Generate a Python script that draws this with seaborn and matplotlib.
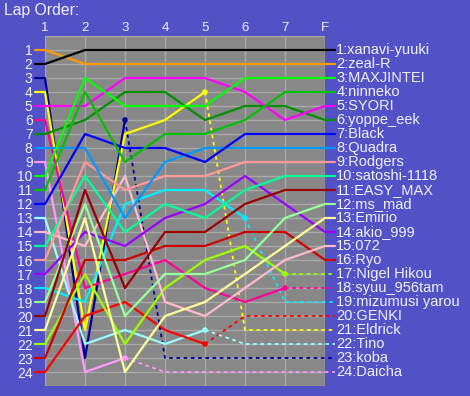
import matplotlib
matplotlib.use("Agg")
import matplotlib.pyplot as plt
import seaborn as sns
import pandas as pd

# ---- data ----
laps = ["1", "2", "3", "4", "5", "6", "7", "F"]
drivers = ["xanavi-yuuki", "zeal-R", "MAXJINTEI", "ninneko", "SYORI", "yoppe_eek",
           "Black", "Quadra", "Rodgers", "satoshi-1118", "EASY_MAX", "ms_mad",
           "Emirio", "akio_999", "072", "Ryo", "Nigel Hikou", "syuu_956tam",
           "mizumusi yarou", "GENKI", "Eldrick", "Tino", "koba", "Daicha"]
order = {
    "xanavi-yuuki":   [2, 1, 1, 1, 1, 1, 1, 1],
    "zeal-R":         [1, 2, 2, 2, 2, 2, 2, 2],
    "MAXJINTEI":      [10, 3, 5, 5, 5, 3, 3, 3],
    "ninneko":        [11, 4, 9, 7, 7, 6, 4, 4],
    "SYORI":          [5, 5, 3, 3, 3, 4, 6, 5],
    "yoppe_eek":      [7, 6, 4, 4, 6, 5, 5, 6],
    "Black":          [12, 7, 8, 8, 9, 7, 7, 7],
    "Quadra":         [8, 8, 13, 9, 8, 8, 8, 8],
    "Rodgers":        [16, 9, 11, 10, 10, 9, 9, 9],
    "satoshi-1118":   [15, 10, 14, 12, 13, 11, 10, 10],
    "EASY_MAX":       [20, 11, 18, 14, 14, 12, 11, 11],
    "ms_mad":         [19, 12, 20, 17, 17, 16, 13, 12],
    "Emirio":         [21, 13, 24, 20, 19, 17, 15, 13],
    "akio_999":       [17, 14, 15, 13, 12, 10, 12, 14],
    "072":            [14, 15, 10, 19, 20, 18, 16, 15],
    "Ryo":            [23, 16, 16, 15, 15, 14, 14, 16],
    "Nigel Hikou":    [22, 17, 22, 18, 16, 15, 17, 17],
    "syuu_956tam":    [6, 18, 17, 16, 18, 19, 18, 18],
    "mizumusi yarou": [18, 19, 12, 11, 11, 13, 19, 19],
    "GENKI":          [24, 20, 19, 21, 22, 20, 20, 20],
    "Eldrick":        [4, 21, 7, 6, 4, 21, 21, 21],
    "Tino":           [13, 22, 21, 22, 21, 22, 22, 22],
    "koba":           [3, 23, 6, 23, 23, 23, 23, 23],
    "Daicha":         [9, 24, 23, 24, 24, 24, 24, 24],
}
# index of last lap run before retiring (None = finished)
retired_after = {"koba": 2, "Daicha": 2, "Eldrick": 4, "GENKI": 4, "Tino": 4,
                 "mizumusi yarou": 5, "Nigel Hikou": 6, "syuu_956tam": 6}
colors = {
    "xanavi-yuuki": "#000000", "zeal-R": "#ff9900", "MAXJINTEI": "#00ff00",
    "ninneko": "#00c000", "SYORI": "#ff00ff", "yoppe_eek": "#009000",
    "Black": "#0000ff", "Quadra": "#0099ff", "Rodgers": "#ff9999",
    "satoshi-1118": "#00ff99", "EASY_MAX": "#990000", "ms_mad": "#99ff99",
    "Emirio": "#ffff99", "akio_999": "#9900ff", "072": "#ffbbcc",
    "Ryo": "#cc0000", "Nigel Hikou": "#99ff00", "syuu_956tam": "#ff0099",
    "mizumusi yarou": "#00eeff", "GENKI": "#ff0000", "Eldrick": "#ffff00",
    "Tino": "#99ffff", "koba": "#000099", "Daicha": "#ff99ff",
}

# ---- style ----
BG = "#5252c6"
PLOT = "#888888"
GRID = "#a8a8a8"
TXT = "#f0f0ff"
STUB = 0.25

sns.set_style("white")
plt.rcParams["font.family"] = ["Liberation Sans", "DejaVu Sans"]

fig = plt.figure(figsize=(4.70, 3.96), dpi=100)
fig.patch.set_facecolor(BG)
ax = fig.add_axes([45 / 470, 10 / 396, 280 / 470, 350 / 396])
ax.set_facecolor(PLOT)

n = len(laps)
run_rows, ret_rows, dot_rows = [], [], []
for d in drivers:
    pos = order[d]
    last = retired_after.get(d, n - 1)
    run_rows.append({"driver": d, "x": -STUB, "pos": pos[0]})
    for i in range(last + 1):
        run_rows.append({"driver": d, "x": i, "pos": pos[i]})
    if last == n - 1:
        run_rows.append({"driver": d, "x": n - 1 + STUB, "pos": pos[-1]})
    else:
        dot_rows.append({"driver": d, "x": last, "pos": pos[last]})
        for i in range(last, n):
            ret_rows.append({"driver": d, "x": i, "pos": pos[i]})
        ret_rows.append({"driver": d, "x": n - 1 + STUB, "pos": pos[-1]})

df_run = pd.DataFrame(run_rows)
df_ret = pd.DataFrame(ret_rows)
df_dot = pd.DataFrame(dot_rows)

sns.lineplot(data=df_ret, x="x", y="pos", hue="driver", palette=colors,
             estimator=None, sort=False, legend=False, ax=ax,
             lw=1.3, linestyle=(0, (2, 2)), clip_on=False)
sns.lineplot(data=df_run, x="x", y="pos", hue="driver",
             hue_order=drivers[::-1], palette=colors,
             estimator=None, sort=False, legend=False, ax=ax,
             lw=1.6, clip_on=False)
sns.scatterplot(data=df_dot, x="x", y="pos", hue="driver", palette=colors,
                legend=False, ax=ax, s=16, linewidth=0, clip_on=False, zorder=5)

ax.set_xlim(0, n - 1)
ax.set_ylim(len(drivers) + 1, 0)
ax.set_xticks(range(n))
ax.set_xticklabels(laps)
ax.xaxis.tick_top()
ax.set_yticks(range(len(drivers) + 2))
ax.set_yticklabels([""] + [str(i) for i in range(1, len(drivers) + 1)] + [""])
ax.tick_params(axis="x", length=0, pad=1.5, labelsize=9.5, colors=TXT)
ax.tick_params(axis="y", length=0, pad=9, labelsize=10, colors=TXT)
ax.grid(True, color=GRID, lw=1)
ax.set_axisbelow(True)
ax.set_xlabel("")
ax.set_ylabel("")
for s in ax.spines.values():
    s.set_visible(False)

for d in drivers:
    final = order[d][-1]
    ax.text(n - 1 + STUB + 0.03, final, f"{final}:{d}", color=TXT,
            fontsize=10.5, va="center", ha="left", clip_on=False)

fig.text(4 / 470, 1 - 11 / 396, "Lap Order:", color=TXT, fontsize=11.3,
         ha="left", va="center")

fig.savefig("out.png", dpi=100, facecolor=BG)
